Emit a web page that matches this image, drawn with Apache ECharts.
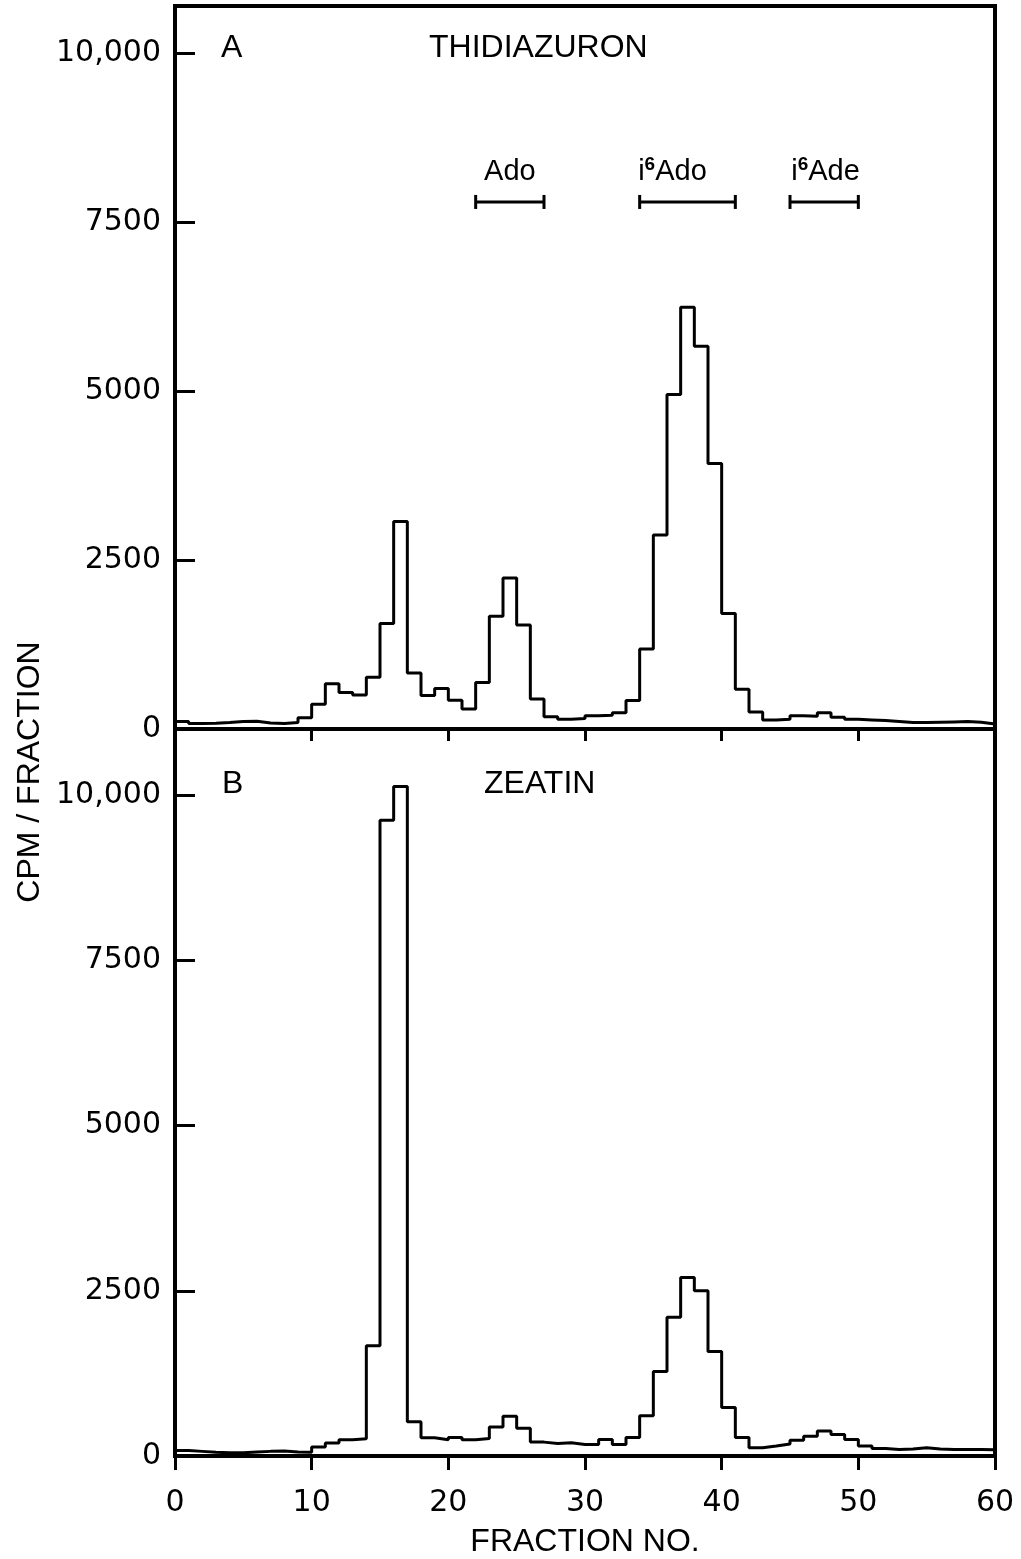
<!DOCTYPE html>
<html>
<head>
<meta charset="utf-8">
<script src="https://cdn.jsdelivr.net/npm/echarts@6/dist/echarts.min.js"></script>
<style>
  html, body { margin: 0; padding: 0; background: #fff; }
  #chart { width: 1021px; height: 1559px; }
</style>
</head>
<body>
<div id="chart"></div>
<script>
// CPM per fraction, bin i covers fraction i .. i+1
const thidiazuron = [
  110, 80, 85, 95, 110, 115, 90, 80, 95, 165,
  365, 670, 540, 505, 765, 1560, 3070, 830, 495, 600,
  425, 295, 690, 1670, 2235, 1540, 445, 180, 145, 155,
  195, 205, 240, 420, 1185, 2870, 4950, 6240, 5665, 3930,
  1710, 590, 250, 135, 145, 195, 190, 240, 175, 145,
  135, 125, 110, 95, 95, 100, 105, 110, 100, 75
]
const zeatin = [
  85, 70, 55, 50, 50, 60, 70, 75, 60, 55,
  135, 195, 245, 260, 1670, 9620, 10130, 520, 275, 245,
  280, 245, 265, 440, 600, 420, 210, 190, 200, 175,
  175, 250, 175, 280, 610, 1280, 2100, 2700, 2500, 1580,
  735, 280, 125, 150, 180, 240, 300, 380, 325, 250,
  150, 115, 100, 105, 125, 105, 100, 100, 100, 95
]

// marker bars in panel A
const markerNames = ['Ado', 'i6Ado', 'i6Ade']
const markerFrom = [22, 34, 45]
const markerTo = [27, 41, 50]
const markerLabelX = [24.5, 36.4, 47.6]
const markerLevel = 7800
const markerLabelLevel = 8250

const yTicks = [0, 2500, 5000, 7500, 10000]

const FONT_NUM = 'DejaVu Sans'
const FONT_TXT = 'Liberation Sans'

const toSteps = (vals) => {
  const pts = vals.map((v, i) => [i, v])
  pts.push([vals.length, vals[vals.length - 1]])
  return pts
}

const yLabel = (v) => {
  if (!yTicks.includes(v)) return ''
  return v === 10000 ? '10,000' : String(v)
}

const yAxisBase = (gridIndex, max) => ({
  type: 'value',
  gridIndex,
  min: 0,
  max,
  interval: 2500,
  axisLine: { show: true, lineStyle: { color: '#000', width: 4 } },
  axisTick: { inside: true, length: 20, lineStyle: { color: '#000', width: 3 } },
  axisLabel: { color: '#000', fontFamily: FONT_NUM, fontSize: 30, margin: 14, formatter: yLabel, showMaxLabel: false },
  splitLine: { show: false },
})

const titleStyle = { fontFamily: FONT_TXT, fontWeight: 'normal', fontSize: 32, color: '#000' }

const chart = echarts.init(document.getElementById('chart'))

const markerSeries = markerNames.map((n, i) => ({
  type: 'line',
  xAxisIndex: 0,
  yAxisIndex: 0,
  data: [[markerFrom[i], markerLevel], [markerTo[i], markerLevel]],
  symbol: 'rect',
  symbolSize: [3, 14],
  itemStyle: { color: '#000' },
  lineStyle: { color: '#000', width: 3 },
  silent: true,
}))

chart.setOption({
  animation: false,
  backgroundColor: '#fff',
  title: [
    { text: 'A', left: 216, top: 27, textStyle: titleStyle },
    { text: 'THIDIAZURON', left: 424, top: 27, textStyle: titleStyle },
    { text: 'B', left: 217, top: 763, textStyle: titleStyle },
    { text: 'ZEATIN', left: 479, top: 763, textStyle: titleStyle },
  ],
  graphic: [
    {
      type: 'text',
      x: 30,
      y: 772,
      rotation: Math.PI / 2,
      style: {
        text: 'CPM / FRACTION',
        fontFamily: FONT_TXT,
        fontSize: 32,
        fill: '#000',
        align: 'center',
        verticalAlign: 'middle',
      },
    },
  ],
  grid: [
    { left: 175, right: 26, top: 6, height: 723, show: true, borderColor: '#000', borderWidth: 4 },
    { left: 175, right: 26, top: 729, height: 740, show: true, borderColor: '#000', borderWidth: 4 },
  ],
  xAxis: [
    {
      type: 'value',
      gridIndex: 0,
      min: 0,
      max: 60,
      interval: 10,
      axisLine: { show: true, lineStyle: { color: '#000', width: 4 } },
      axisTick: { length: 12, lineStyle: { color: '#000', width: 3 } },
      axisLabel: { show: false },
      splitLine: { show: false },
    },
    {
      type: 'value',
      gridIndex: 1,
      min: 0,
      max: 60,
      interval: 10,
      name: 'FRACTION NO.',
      nameLocation: 'middle',
      nameGap: 70,
      nameTextStyle: { color: '#000', fontFamily: FONT_TXT, fontSize: 32 },
      axisLine: { show: true, lineStyle: { color: '#000', width: 4 } },
      axisTick: { length: 14, lineStyle: { color: '#000', width: 3 } },
      axisLabel: { color: '#000', fontFamily: FONT_NUM, fontSize: 30, margin: 32 },
      splitLine: { show: false },
    },
  ],
  yAxis: [yAxisBase(0, 10700), yAxisBase(1, 11000)],
  series: [
    {
      type: 'line',
      xAxisIndex: 0,
      yAxisIndex: 0,
      step: 'end',
      data: toSteps(thidiazuron),
      showSymbol: false,
      lineStyle: { color: '#000', width: 3 },
    },
    {
      type: 'line',
      xAxisIndex: 1,
      yAxisIndex: 1,
      step: 'end',
      data: toSteps(zeatin),
      showSymbol: false,
      lineStyle: { color: '#000', width: 3 },
    },
    ...markerSeries,
    {
      type: 'scatter',
      xAxisIndex: 0,
      yAxisIndex: 0,
      symbolSize: 0,
      itemStyle: { opacity: 1, color: '#000' },
      data: markerNames.map((n, i) => ({ value: [markerLabelX[i], markerLabelLevel], name: n })),
      label: {
        show: true,
        position: 'inside',
        color: '#000',
        opacity: 1,
        formatter: (p) => p.name.startsWith('i6') ? `{t|i}{s|6}{t|${p.name.slice(2)}}` : `{t|${p.name}}`,
        rich: {
          t: { fontFamily: FONT_TXT, fontSize: 29, color: '#000', lineHeight: 32 },
          s: { fontFamily: FONT_TXT, fontSize: 19, fontWeight: 'bold', color: '#000', verticalAlign: 'top', lineHeight: 20 },
        },
      },
      silent: true,
    },
  ],
})
</script>
</body>
</html>
